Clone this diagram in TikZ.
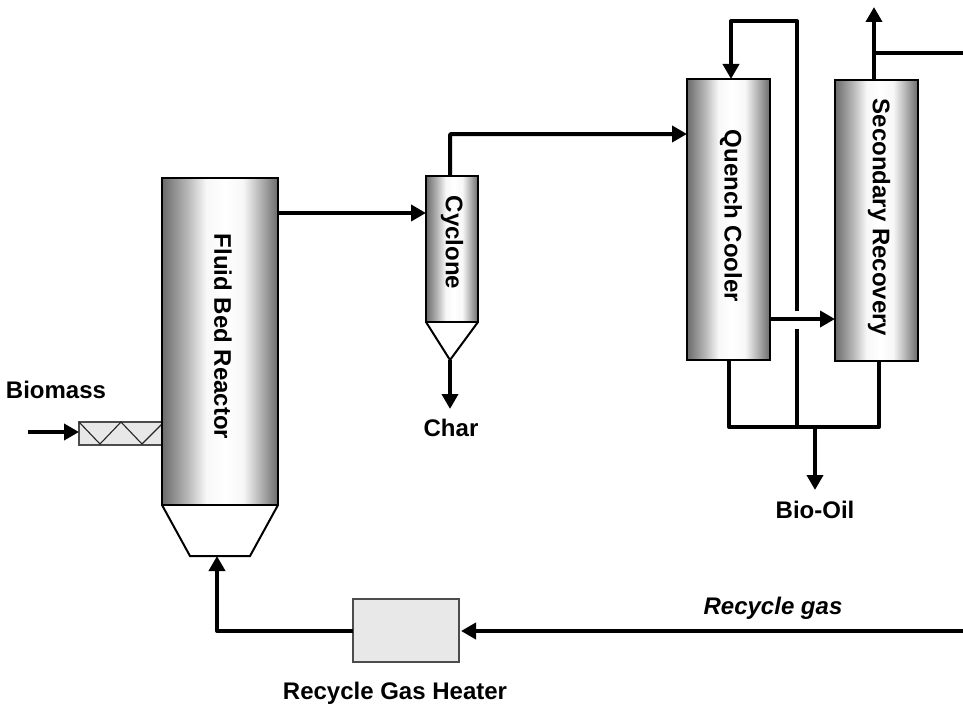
\documentclass[tikz,border=0pt]{standalone}
\usepackage{fontspec}
\setmainfont{Liberation Sans}
\usetikzlibrary{arrows.meta,calc}
\definecolor{vA}{gray}{0.42}
\definecolor{vB}{gray}{0.72}
\definecolor{vC}{gray}{0.97}
\definecolor{vD}{gray}{1}
\pgfdeclarehorizontalshading{vesselshade}{100bp}{color(0bp)=(vA); color(25bp)=(vA); color(36bp)=(vB); color(44bp)=(vC); color(52bp)=(vD); color(60bp)=(vC); color(67bp)=(vB); color(75bp)=(vA); color(100bp)=(vA)}
\tikzset{
  vessel/.style={draw=black,line width=2.2pt,inner sep=0pt,outer sep=0pt,shading=vesselshade},
  hopper/.style={draw=black,line width=2pt,fill=white,line join=miter},
  flow/.style={line width=4pt,line join=round},
  arrowflow/.style={flow,-{Triangle[length=15pt,width=16pt]}},
  tag/.style={font=\bfseries\fontsize{24}{26}\selectfont,inner sep=0pt,text=black},
  graybox/.style={draw=black!70,line width=1.2pt,fill=black!9,inner sep=0pt,outer sep=0pt}
}
\begin{document}
\begin{tikzpicture}[x=1pt,y=-1pt]
\useasboundingbox (0,0) rectangle (963,706);
% screw feeder
\node[graybox,minimum width=83pt,minimum height=23pt] (screw) at (120.5,433.5) {};
\draw[line width=1.1pt,draw=black!85] (79,422) coordinate (s0) -- (100,444) -- (121,422) -- (142,444) -- (162,424);
% vessels
\node[vessel,minimum width=116pt,minimum height=327pt] (reactor) at (220,341.5) {};
\node[vessel,minimum width=52pt,minimum height=146pt] (cyclone) at (452,249) {};
\node[vessel,minimum width=83pt,minimum height=281pt] (quench) at (728.5,219.5) {};
\node[vessel,minimum width=83pt,minimum height=281pt] (secondary) at (876.5,220.5) {};
\node[graybox,minimum width=106pt,minimum height=63pt] (heater) at (406,630.5) {};
% hoppers
\draw[hopper] (reactor.south west) -- (190,556) coordinate (hl) -- (250,556) coordinate (hr) -- (reactor.south east);
\coordinate (hbot) at (217,556);
\draw[hopper] (cyclone.south west) -- (450,360) coordinate (ctip) -- (cyclone.south east);
\draw[draw=black,line width=2.6pt] (reactor.south west) -- (reactor.south east);
\draw[draw=black,line width=2.6pt] (cyclone.south west) -- (cyclone.south east);
% labels in vessels
\node[tag,rotate=-90] (lr) at (223,336.5) {Fluid Bed Reactor};
\node[tag,rotate=-90] (lc) at (452,242.5) {Cyclone};
\node[tag,rotate=-90] (lq) at (731,216) {Quench Cooler};
\node[tag,rotate=-90] (ls) at (879,217.5) {Secondary Recovery};
% free ends
\coordinate (bioin) at (28,432);
\coordinate (rin) at (963,631);
\coordinate (gout) at (963,53);
\coordinate (gtop) at (874,7);
\coordinate (oil) at (815,490);
\coordinate (join) at (815,427);
\coordinate (htip) at (461,631);
% connectors
\draw[arrowflow] (bioin) -- (screw.west |- bioin);
\draw[arrowflow] (reactor.east |- 0,213) -- (cyclone.west |- 0,213);
\draw[arrowflow,rounded corners=1pt] (450,176) -- (450,134) -- (quench.west |- 0,134);
\draw[arrowflow] (ctip) -- (450,409);
\draw[arrowflow] (quench.east |- 0,319) -- (secondary.west |- 0,319);
\draw[flow] (729,360) -- (729,427) -- (879,427) -- (879,361);
\draw[arrowflow] (join) -- (oil);
\draw[flow] (797,427) -- (797,329);
\draw[arrowflow] (797,311) -- (797,21) -- (731,21) -- (731,79);
\draw[arrowflow] (874,80) -- (gtop);
\draw[flow] (874,53) -- (gout);
\draw[arrowflow] (rin) -- (htip);
\draw[arrowflow] (heater.west |- rin) -- (217,631) -- (hbot);
% text
\node[tag] (tb) at (56,390) {Biomass};
\node[tag] (tc) at (451,428) {Char};
\node[tag] (to) at (815,510) {Bio-Oil};
\node[tag] (th) at (395,693) {Recycle Gas Heater};
\node[tag,font=\bfseries\itshape\fontsize{24}{26}\selectfont] (tg) at (773,608) {Recycle gas};
\end{tikzpicture}
\end{document}
